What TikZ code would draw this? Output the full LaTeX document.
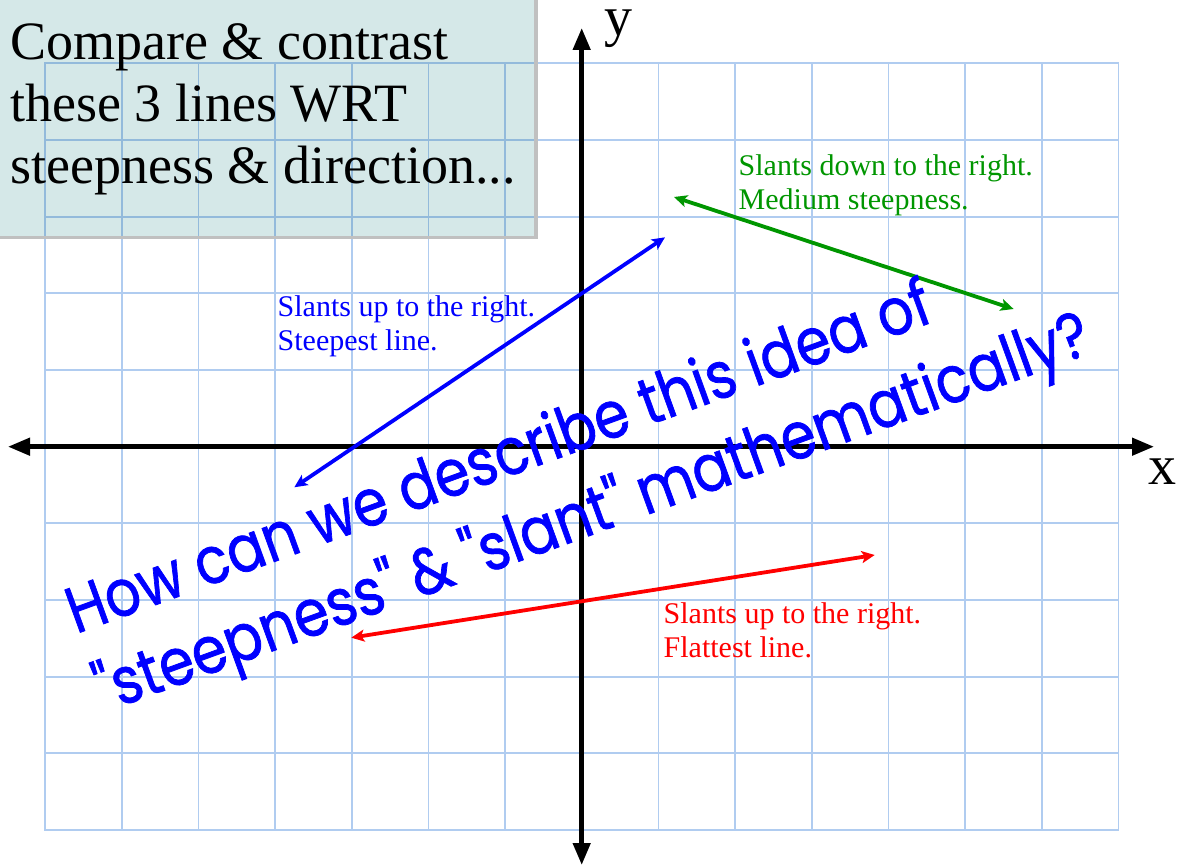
\documentclass[tikz,border=0pt]{standalone}
\usepackage{fontspec}
\usepackage{graphicx}
\setmainfont{Liberation Serif}
\newfontfamily\handfont[FakeBold=1.2]{Poppins}
\usetikzlibrary{arrows.meta}
\definecolor{gridc}{RGB}{176,204,240}
\definecolor{gridinbox}{RGB}{147,186,219}
\definecolor{boxc}{RGB}{213,232,232}
\definecolor{shadowc}{RGB}{192,192,192}
\definecolor{greenc}{RGB}{0,150,0}
\definecolor{bluec}{RGB}{0,0,255}
\definecolor{redc}{RGB}{255,0,0}
\newlength\wlineA
\newlength\wlineB
\newcommand\bigfnt{\handfont\fontsize{65}{80}\selectfont}
\newcommand\mygrid[1]{%
  \foreach \i in {0,...,14} \draw[gridline,draw=#1] ({45.2+76.66*\i},63.3) -- ({45.2+76.66*\i},830);
  \foreach \j in {0,...,10} \draw[gridline,draw=#1] (45.2,{63.3+76.67*\j}) -- (1118.4,{63.3+76.67*\j});
}
\tikzset{
  gridline/.style={line width=1.8pt, line cap=rect},
  axisline/.style={line width=4.5pt, {Triangle[length=22pt,width=17pt]}-{Triangle[length=22pt,width=17pt]}},
  slantline/.style={line width=3.8pt, {Stealth[length=13pt,width=12pt,inset=3pt]}-{Stealth[length=13pt,width=12pt,inset=3pt]}},
  titletext/.style={anchor=base west, inner sep=0pt, font=\fontsize{54}{61.5}\selectfont},
  labeltext/.style={anchor=base west, inner sep=0pt, font=\fontsize{30}{34}\selectfont},
  axislabel/.style={anchor=base west, inner sep=0pt, font=\fontsize{56}{60}\selectfont},
  bigtext/.style={anchor=base west, inner sep=0pt, rotate=20, text=bluec, font=\bigfnt},
}
\begin{document}
\settowidth\wlineA{\bigfnt How can we describe this idea of}%
\settowidth\wlineB{\bigfnt "steepness" \& "slant" mathematically?}%
\pgfmathsetmacro\sA{915/\wlineA}%
\pgfmathsetmacro\sB{1053/\wlineB}%
\begin{tikzpicture}[x=1pt,y=-1pt]
\useasboundingbox (0,0) rectangle (1179,866);
\fill[white] (0,0) rectangle (1179,866);
% grid
\mygrid{gridc}
% title box
\fill[boxc] (0,0) rectangle (534,236);
\begin{scope}
  \clip (0,0) rectangle (534,236);
  \mygrid{gridinbox}
\end{scope}
\fill[shadowc] (534,0) rectangle (537.5,238.7);
\fill[shadowc] (0,236) rectangle (537.5,238.7);
\node[titletext] (t1) at (10,60) {Compare \& contrast};
\node[titletext] (t2) at (10,121.7) {these 3 lines WRT};
\node[titletext] (t3) at (10,183.2) {steepness \& direction...};
% axes
\coordinate (xL) at (8,446.7);
\coordinate (xR) at (1154,446.7);
\coordinate (yT) at (581.7,28);
\coordinate (yB) at (581.7,865);
\draw[axisline] (xL) -- (xR);
\draw[axisline] (yB) -- (yT);
\node[axislabel] (ylab) at (604,36) {y};
\node[axislabel] (xlab) at (1148,485) {x};
% slanted lines
\coordinate (bA) at (294.3,487.3);
\coordinate (bB) at (665,237.3);
\coordinate (gA) at (674,197);
\coordinate (gB) at (1013.6,309);
\coordinate (rA) at (351.3,637.7);
\coordinate (rB) at (874.7,555);
\draw[slantline, draw=bluec, fill=bluec] (bA) -- (bB);
\draw[slantline, draw=greenc, fill=greenc] (gA) -- (gB);
\draw[slantline, draw=redc, fill=redc] (rA) -- (rB);
% labels
\node[labeltext, text=bluec] (b1) at (277.5,316.7) {Slants up to the right.};
\node[labeltext, text=bluec] (b2) at (277.5,350.7) {Steepest line.};
\node[labeltext, text=greenc] (g1) at (738.5,176) {Slants down to the right.};
\node[labeltext, text=greenc] (g2) at (738.5,209.3) {Medium steepness.};
\node[labeltext, text=redc] (r1) at (663.5,623.3) {Slants up to the right.};
\node[labeltext, text=redc] (r2) at (663.5,657.7) {Flattest line.};
% big question
\node[bigtext] (q1) at (76,634) {\scalebox{\sA}[1]{How can we describe this idea of}};
\node[bigtext] (q2) at (104.5,712.4) {\scalebox{\sB}[1]{"steepness" \& "slant" mathematically?}};
\end{tikzpicture}
\end{document}
